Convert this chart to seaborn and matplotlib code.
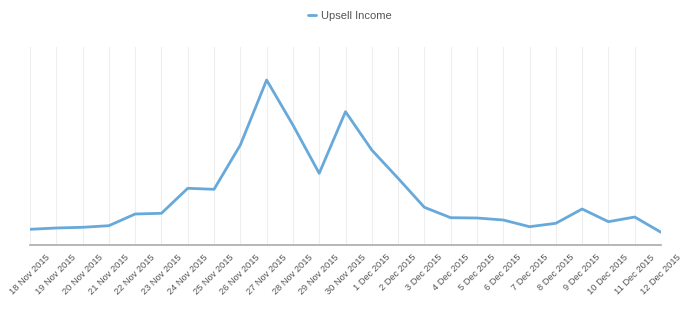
import matplotlib
matplotlib.use("Agg")
import matplotlib.pyplot as plt
import seaborn as sns
import pandas as pd

dates = ["18 Nov 2015", "19 Nov 2015", "20 Nov 2015", "21 Nov 2015", "22 Nov 2015",
         "23 Nov 2015", "24 Nov 2015", "25 Nov 2015", "26 Nov 2015", "27 Nov 2015",
         "28 Nov 2015", "29 Nov 2015", "30 Nov 2015", "1 Dec 2015", "2 Dec 2015",
         "3 Dec 2015", "4 Dec 2015", "5 Dec 2015", "6 Dec 2015", "7 Dec 2015",
         "8 Dec 2015", "9 Dec 2015", "10 Dec 2015", "11 Dec 2015", "12 Dec 2015"]
upsell_income = [157, 170, 177, 193, 310, 317, 567, 557, 1000, 1650,
                 1200, 717, 1333, 950, 667, 377, 273, 270, 250, 183,
                 217, 360, 233, 280, 127]

df = pd.DataFrame({"date": dates, "Upsell Income": upsell_income})

sns.set_theme(style="white")
plt.rcParams["font.family"] = ["Liberation Sans", "DejaVu Sans"]

fig = plt.figure(figsize=(7, 3.1), dpi=100)
ax = fig.add_axes([30/700, 65/310, 631/700, 198/310])

sns.lineplot(data=df, x="date", y="Upsell Income", ax=ax, color="#67a9da",
             linewidth=2.0, label="Upsell Income", sort=False)

ax.set_xlim(0, len(dates) - 1)
ax.set_ylim(0, 1980)
ax.set_xticks(range(len(dates)))
ax.set_xticklabels(dates, rotation=45, ha="center", va="top",
                   fontsize=6.7, color="#555555")
ax.tick_params(axis="x", length=0, pad=5.5)
ax.set_yticks([])
ax.set_xlabel("")
ax.set_ylabel("")
ax.grid(axis="x", color="#eeeeee", linewidth=0.8)
ax.grid(axis="y", visible=False)
for s in ["top", "right", "left"]:
    ax.spines[s].set_visible(False)
ax.spines["bottom"].set_color("#aaaaaa")
ax.spines["bottom"].set_linewidth(1.2)

leg = ax.legend(loc="center", frameon=False, fontsize=8, handlelength=0.7,
                handletextpad=0.5, borderaxespad=0)
leg.set_bbox_to_anchor((350/700, 1 - 16/310), transform=fig.transFigure)
for t in leg.get_texts():
    t.set_color("#555555")

fig.savefig("out.png", dpi=100)
